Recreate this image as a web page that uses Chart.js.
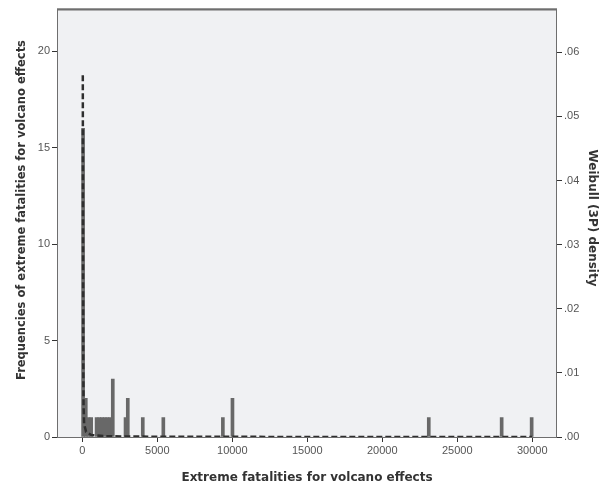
<!DOCTYPE html>
<html>
<head>
<meta charset="utf-8">
<script src="https://cdn.jsdelivr.net/npm/chart.js@4.4.1/dist/chart.umd.min.js"></script>
<style>
  html, body { margin:0; padding:0; background:#fff; }
  #wrap { width:608px; height:485px; position:relative; }
</style>
</head>
<body>
<div id="wrap"><canvas id="chart"></canvas></div>
<script>
// histogram bins (bin centre, count)
const binCenters = [50, 230, 410, 590, 950, 1130, 1310, 1490, 1670, 1850, 2030, 2880, 3030, 4030, 5400, 9370, 10010, 23100, 27960, 29960];
const binCounts  = [16, 2, 1, 1, 1, 1, 1, 1, 1, 1, 3, 1, 2, 1, 1, 1, 2, 1, 1, 1];

// fitted Weibull (3P) density
const densX = [30, 45, 60, 80, 120, 250, 600, 1500, 5000, 15000, 30000];
const densY = [0.0564, 0.03, 0.012, 0.005, 0.002, 0.0008, 0.0003, 0.00012, 0.00004, 0.00001, 0.000003];

const xTicks = [0, 5000, 10000, 15000, 20000, 25000, 30000];
const yTicks = [0, 5, 10, 15, 20];
const y2Ticks = [0, 0.01, 0.02, 0.03, 0.04, 0.05, 0.06];

const xTitle = 'Extreme fatalities for volcano effects';
const yTitle = 'Frequencies of extreme fatalities for volcano effects';
const y2Title = 'Weibull (3P) density';

const TICK_FONT = { family:'Liberation Sans', size:11 };
const TITLE_FONT = { family:'DejaVu Sans', size:12, weight:'bold' };
const TICK_COLOR = '#555';
const FRAME = '#6e6e6e';

const plotBg = {
  id:'plotBg',
  beforeDraw(chart){
    const { ctx, chartArea:a } = chart;
    ctx.save();
    ctx.fillStyle = '#f0f1f3';
    ctx.fillRect(a.left, a.top, a.right - a.left, a.bottom - a.top);
    ctx.restore();
  },
  afterDatasetsDraw(chart){
    const { ctx, chartArea:a } = chart;
    ctx.save();
    ctx.strokeStyle = FRAME;
    ctx.lineWidth = 1;
    ctx.strokeRect(a.left + 0.5, a.top + 0.5, a.right - a.left - 1, a.bottom - a.top);
    ctx.lineWidth = 2;
    ctx.beginPath(); ctx.moveTo(a.left, a.top + 1); ctx.lineTo(a.right, a.top + 1); ctx.stroke();
    ctx.restore();
  },
  afterDraw(chart){
    // vertical axis titles
    const { ctx } = chart;
    ctx.save();
    ctx.fillStyle = '#333';
    ctx.textAlign = 'center';
    ctx.textBaseline = 'middle';
    ctx.font = 'bold 11.5px "DejaVu Sans"';
    ctx.translate(22, 210);
    ctx.rotate(-Math.PI / 2);
    ctx.fillText(yTitle, 0, 0);
    ctx.restore();

    ctx.save();
    ctx.fillStyle = '#333';
    ctx.textAlign = 'center';
    ctx.textBaseline = 'middle';
    ctx.font = 'bold 12px "DejaVu Sans"';
    ctx.translate(592, 218);
    ctx.rotate(Math.PI / 2);
    ctx.fillText(y2Title, 0, 0);
    ctx.restore();
  }
};

new Chart(document.getElementById('chart'), {
  type:'bar',
  data:{
    datasets:[
      {
        type:'line',
        data: densX.map((x, i) => ({ x, y: densY[i] })),
        yAxisID:'y2',
        borderColor:'#2e2e2e',
        borderWidth:2.5,
        borderDash:[6,3],
        pointRadius:0,
        tension:0,
        fill:false,
        order:0
      },
      {
        type:'bar',
        data: binCenters.map((x, i) => ({ x, y: binCounts[i] })),
        yAxisID:'y',
        backgroundColor:'#686868',
        borderWidth:0,
        barThickness:3,
        order:1
      }
    ]
  },
  options:{
    responsive:true,
    maintainAspectRatio:false,
    animation:false,
    layout:{ padding:{ top:6, left:0, right:0, bottom:0 } },
    plugins:{ legend:{ display:false }, tooltip:{ enabled:false } },
    scales:{
      x:{
        type:'linear',
        offset:false,
        min:-1690, max:31650,
        afterBuildTicks(s){ s.ticks = xTicks.map(v => ({ value:v })); },
        ticks:{ font:TICK_FONT, color:TICK_COLOR, padding:2, maxRotation:0, callback: v => String(v) },
        grid:{ drawOnChartArea:false, tickLength:5, color:'#333', offset:false },
        border:{ display:false },
        title:{ display:true, text:xTitle, font:TITLE_FONT, color:'#333', padding:{ top:4, bottom:0 } },
        afterFit(s){ s.height = 48; }
      },
      y:{
        position:'left',
        min:0, max:22.2,
        afterBuildTicks(s){ s.ticks = yTicks.map(v => ({ value:v })); },
        ticks:{ font:TICK_FONT, color:TICK_COLOR, padding:2 },
        grid:{ drawOnChartArea:false, tickLength:5, color:'#333' },
        border:{ display:false },
        title:{ display:false },
        afterFit(s){ s.width = 57; }
      },
      y2:{
        position:'right',
        min:0, max:0.0668,
        afterBuildTicks(s){ s.ticks = y2Ticks.map(v => ({ value:v })); },
        ticks:{ font:TICK_FONT, color:TICK_COLOR, padding:2,
          callback: v => '.' + String(Math.round(v * 100)).padStart(2, '0') },
        grid:{ drawOnChartArea:false, tickLength:5, color:'#333' },
        border:{ display:false },
        title:{ display:false },
        afterFit(s){ s.width = 51; }
      }
    }
  },
  plugins:[plotBg]
});
</script>
</body>
</html>
